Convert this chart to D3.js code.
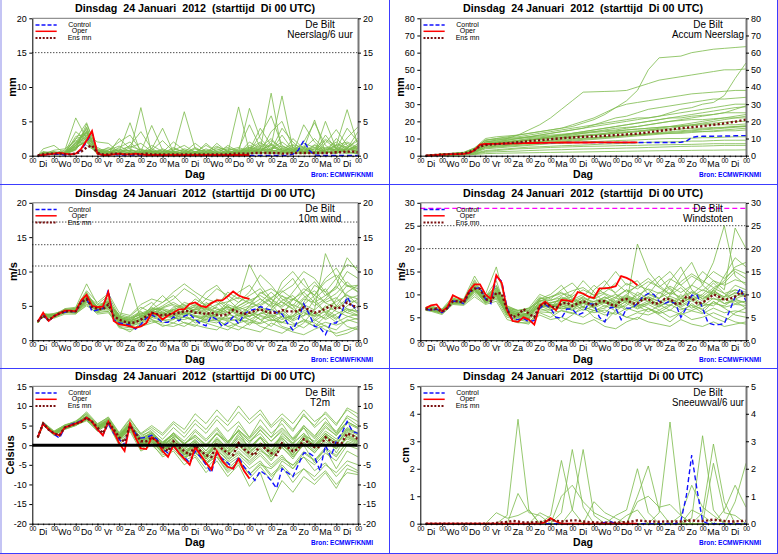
<!DOCTYPE html>
<html><head><meta charset="utf-8">
<script src="https://cdn.jsdelivr.net/npm/d3@7"></script>
<style>body{margin:0;background:#fff}svg{display:block}text{font-family:"Liberation Sans",Arial,Helvetica,sans-serif}</style>
</head><body><svg id="c" width="778" height="554"></svg>
<script>
// ---------- time axes ----------
const hours6 = d3.range(6, 361, 6);                 // control / ens-mean hours (60)
const operHours = hours6.slice(0, 40);              // oper runs to +240h
const memberHours = [6].concat(d3.range(12, 361, 12)); // ensemble member hours (31)
const dayLabels = ["Di","Wo","Do","Vr","Za","Zo","Ma","Di","Wo","Do","Vr","Za","Zo","Ma","Di"];
const titleText = "Dinsdag  24 Januari  2012  (starttijd  Di 00 UTC)";
const legendLabels = ["Control","Oper","Ens mn"];

// ---------- Neerslag / 6 uur ----------
const ctrlPrecip = [0,0.1,0.2,0.2,0.2,0.1, 0.2,0.3,0.8,2.0,3.4,0.3, 0.1,0.1,0.2,0.1,0.1,0.1, 0.1,0.1,0.1,0.1,0.1,0.05, 0.05,0.05,0.05,0.05,0.05,0.05, 0.05,0.05,0.05,0.05,0.05,0.05, 0.05,0.05,0.05,0.05,0.05,0.05, 0.05,0.05,0.05,0.05,0.05,0.2, 0.8,2.2,0.8,0.1,0.05,0.05, 0.05,0.05,0.05,0.05,0.05,0.05];
const operPrecip = [0,0.1,0.2,0.3,0.4,0.3, 0.2,0.3,1.0,2.2,3.6,0.3, 0.1,0.1,0.2,0.3,0.2,0.2, 0.3,0.2,0.1,0.1,0.1,0.1, 0.1,0.1,0.1,0.1,0.1,0.1, 0.1,0.1,0.1,0.1,0.1,0.1, 0.1,0.1,0.1,0.1];
const meanPrecip = [0.05,0.2,0.3,0.3,0.3,0.2, 0.2,0.3,0.6,1.2,1.5,0.4, 0.2,0.2,0.3,0.3,0.2,0.2, 0.2,0.2,0.3,0.2,0.2,0.2, 0.2,0.2,0.2,0.2,0.2,0.2, 0.2,0.2,0.2,0.2,0.2,0.2, 0.3,0.3,0.3,0.3,0.4,0.4, 0.4,0.4,0.4,0.3,0.3,0.4, 0.4,0.4,0.4,0.4,0.4,0.4, 0.4,0.5,0.5,0.6,0.6,0.5];
const membersPrecip = [
 [0,0.4,0.3,0.2,0.8,3.5,0.3,0.5,1.0,0.2,0.5,0.3,0.2,0.5,0.3,0.2,0.1,0.3,0.5,0.4,1.5,0.8,0.5,0.3,0.6,1.0,0.5,0.8,1.2,0.6,0.8],
 [0,0.6,0.4,0.8,5.5,2.5,0.4,1.2,0.6,4.8,0.3,0.5,0.2,0.1,0.2,0.5,1.5,0.6,0.3,0.2,0.4,1.2,2.5,0.8,0.4,1.0,5.2,0.5,1.5,2.0,1.2],
 [0,0.3,0.2,0.3,1.0,4.6,1.0,0.2,0.1,0.5,7.0,0.3,0.2,0.1,0.3,0.2,0.1,0.2,0.3,7.1,0.5,0.3,1.0,2.0,0.8,0.3,0.5,3.0,1.0,0.5,0.3],
 [0,1.0,1.5,0.3,1.5,4.0,0.5,0.3,0.5,0.8,0.6,4.4,0.8,0.3,0.2,0.5,0.2,0.1,0.3,0.5,6.9,2.5,0.8,0.4,0.5,1.0,2.5,0.8,1.5,6.7,1.5],
 [0,0.2,0.5,0.4,2.5,3.0,2.0,1.8,0.5,0.3,0.5,1.0,4.0,0.5,6.4,1.0,0.4,0.3,0.2,0.6,0.3,1.0,9.1,0.5,0.3,0.4,1.0,0.5,0.3,1.0,0.5],
 [0,0.3,0.4,0.2,1.8,2.8,0.8,1.0,0.3,0.2,0.3,0.6,0.5,2.0,0.8,0.3,0.2,0.2,1.5,0.6,0.5,0.8,1.5,8.7,1.0,0.5,0.3,0.4,2.5,1.0,3.5],
 [0,0.5,0.2,0.5,3.5,2.2,0.3,0.2,0.4,1.5,3.5,1.0,0.3,0.2,0.5,1.8,0.6,1.0,0.3,0.2,0.8,4.0,1.5,0.5,0.3,4.5,2.0,0.5,1.0,4.0,2.0],
 [0,0.2,0.8,1.0,2.2,1.5,0.5,0.3,2.5,1.0,0.3,0.2,0.1,0.3,0.2,0.1,0.3,1.8,0.5,0.3,1.0,0.5,3.5,5.0,1.2,0.4,0.3,5.0,1.0,0.5,0.4],
 [0,0.2,0.2,0.3,1.0,4.2,0.4,0.6,0.3,0.2,1.0,0.4,0.3,1.2,0.4,0.2,0.4,0.3,0.2,0.3,2.0,1.0,0.4,0.2,2.5,1.0,0.4,0.6,0.3,1.2,2.2],
 [0,0.5,0.4,0.3,2.8,3.2,0.6,0.3,0.2,0.4,0.3,1.5,0.6,0.3,0.2,0.3,1.0,0.4,0.6,0.2,0.3,0.5,1.8,0.6,0.5,2.0,4.8,1.5,0.5,0.3,0.6],
 [0,0.3,0.1,0.2,1.2,2.0,0.2,0.8,2.0,3.0,0.8,0.3,1.0,0.4,0.3,0.2,0.2,0.5,0.3,1.0,4.5,1.2,0.6,3.0,0.8,0.5,0.4,1.8,3.8,1.5,0.8],
 [0,0.2,0.3,0.4,2.0,3.8,0.3,0.2,0.3,0.5,0.2,0.3,0.4,0.3,0.6,0.4,0.3,0.2,0.4,0.3,0.6,3.0,5.8,1.5,0.6,0.3,1.5,0.6,0.4,2.6,4.2],
 [0,0.4,0.6,0.2,1.6,2.6,1.2,0.4,0.2,0.3,0.4,0.2,0.6,0.4,0.3,1.2,0.4,0.3,0.2,0.4,0.3,0.4,0.3,0.5,1.5,0.6,0.3,0.4,0.8,0.5,0.3],
 [0,0.2,0.4,0.6,2.4,4.8,0.6,0.5,0.8,0.6,0.3,0.2,0.3,0.2,0.4,0.6,0.3,1.2,0.8,0.4,0.6,1.5,0.8,4.0,2.0,0.6,0.5,1.0,2.0,0.8,1.5],
 [0,0.3,0.2,0.4,1.4,3.0,0.4,0.3,1.2,2.0,0.5,0.8,2.2,0.6,0.4,0.3,1.8,0.5,0.3,0.6,1.0,2.0,0.6,1.0,0.4,1.2,0.6,2.2,1.0,1.8,1.0],
 [0,0.4,0.5,0.3,2.0,3.4,0.8,0.6,0.3,1.2,1.8,0.6,0.3,0.8,1.5,0.5,0.3,0.8,1.2,0.4,0.8,0.6,2.2,1.2,0.6,0.8,1.2,0.4,0.6,1.0,2.6],
 [0,0.3,0.3,0.2,1.0,2.4,0.5,0.4,0.6,0.8,0.4,0.6,0.8,0.5,0.4,1.0,0.6,0.3,0.5,0.8,1.2,0.6,1.0,1.4,0.8,0.6,1.6,1.0,0.8,1.4,1.0],
 [0,0.2,0.2,0.3,1.2,2.2,0.4,0.3,0.2,0.4,0.6,0.3,0.2,0.6,0.8,0.4,0.2,0.4,0.6,0.3,0.4,1.0,0.8,0.6,1.2,0.8,0.5,0.8,1.6,1.2,0.6],
 [0,0.4,0.5,0.4,1.5,3.6,0.6,0.8,1.4,0.6,0.3,0.5,0.6,0.4,1.0,0.6,0.4,0.6,1.0,0.8,0.6,1.8,1.2,0.8,0.6,1.4,0.8,1.2,0.8,0.6,1.8],
 [0,0.3,0.2,0.2,0.9,2.7,0.3,0.2,0.4,0.3,0.2,0.4,0.3,0.2,0.3,0.6,0.8,0.4,0.3,0.6,0.8,0.4,0.6,1.0,1.6,1.2,0.6,0.4,1.0,0.8,1.2],
 [0,0.5,0.3,0.5,1.8,3.3,0.7,0.5,0.8,1.4,0.8,0.6,0.4,1.0,0.6,0.3,0.6,1.4,0.6,0.5,1.2,0.8,1.6,0.8,1.0,0.6,1.0,2.4,1.4,0.8,1.4],
 [0,0.2,0.4,0.3,1.3,2.0,0.4,0.6,0.3,0.2,0.4,0.8,0.4,0.6,0.2,0.4,0.5,0.3,0.8,1.2,0.6,0.5,0.4,0.6,0.8,1.8,1.2,0.6,0.5,1.0,0.8]
];

// ---------- Accum Neerslag ----------
const ctrlAccum = [0,0.2,0.4,0.6,0.8,0.9, 1.0,1.1,1.5,3.0,6.3,6.7, 6.8,6.9,7.0,7.1,7.2,7.2, 7.3,7.3,7.4,7.4,7.5,7.5, 7.6,7.6,7.7,7.7,7.7,7.7, 7.7,7.7,7.7,7.7,7.7,7.7, 7.7,7.7,7.7,7.7,7.7,7.7, 7.7,7.7,7.7,7.7,7.7,7.8, 8.4,10.6,11.2,11.3,11.3,11.3, 11.4,11.5,11.5,11.6,11.7,11.7];
const operAccum = [0,0.2,0.4,0.6,0.8,0.9, 1.0,1.1,1.6,3.2,6.5,6.8, 6.9,6.9,7.0,7.1,7.2,7.2, 7.3,7.4,7.4,7.5,7.5,7.6, 7.6,7.7,7.7,7.7,7.7,7.7, 7.7,7.8,7.8,7.8,7.8,7.8, 7.8,7.8,7.8,7.8];
const meanAccum = [0,0.3,0.5,0.7,0.9,1.0, 1.1,1.3,2.0,3.5,5.5,6.2, 6.5,6.8,7.0,7.3,7.5,7.8, 8.1,8.5,8.8,9.0,9.3,9.6, 9.9,10.2,10.4,10.6,10.8,11.0, 11.1,11.2,11.4,11.6,11.8,12.0, 12.2,12.4,12.6,12.8,13.2,13.6, 14.0,14.4,14.8,15.2,15.6,16.0, 16.3,16.6,16.9,17.2,17.6,18.0, 18.4,18.8,19.3,19.8,20.4,21.0];
const membersAccum = [
 [0,0.4,0.8,1.2,1.6,3.5,8,9,10,12,15,18,22,27,32,37,37.2,37.4,37.6,38,40,42,44,45,46,47,48,49,50,50,50.5],
 [0,0.5,1.0,1.5,2.0,4.5,9,10,11,12,13,14,15,16,17,19,21,24,28,32,38,50,57,57.5,58,60,61,62,62.5,63,63.5],
 [0,0.3,0.7,1.0,1.4,3.0,7,8,9,10,11,12,13,14,15,16,17,18,19,20,21,22,23,25,27,28,30,31,35,45,54],
 [0,0.5,0.9,1.3,1.8,4.5,10,11,11.5,12,13,14,15,16,18,20,22,25,28,30,31,32,33,34,35,36,36.5,37,37.5,38,38],
 [0,0.3,0.7,1.0,1.3,3.5,8,8.5,9,10,11,12,13,14,15,16,18,20,22,23,25,27,28,29,30,31,32,33,33,33.5,34],
 [0,0.4,0.8,1.2,1.6,4,9,10,10.5,11,12,13,14,15,16,17,18,19,20,21,22,22,23,24,25,26,27,28,29,30,30],
 [0,0.3,0.7,1.1,1.5,3,7,7.5,8,8.5,9,10,11,12,13,14,15,16,17,18,19,20,21,22,23,24,25,26,27,28,28.5],
 [0,0.4,0.8,1.2,1.6,3,6,7,8,9,10,10.5,11,12,13,14,15,16,17,18,19,20,21,22,22,23,23.5,24,25,25,25],
 [0,0.3,0.6,1.0,1.4,2.5,6,6.5,7,8,9,10,11,11.5,12,13,14,15,16,16.5,17,18,19,20,20.5,21,21,21.5,22,22,22],
 [0,0.2,0.5,0.8,1.1,2.2,5,5.5,6,7,7.5,8,9,10,11,11.5,12,13,14,15,15.5,16,16.5,17,17,17.5,18,18,18,18,18.5],
 [0,0.4,0.8,1.1,1.5,3.5,7,7.5,8,8.5,9,9.5,10,10.5,11,11.5,12,12.5,13,13.5,14,14.5,15,15,15.5,16,16,16.5,16.5,17,17],
 [0,0.3,0.6,0.9,1.2,2,5,5.5,6,6.5,7,7.5,8,8.5,9,9.5,10,10.5,11,11.5,12,12.5,13,13,13.5,14,14,14,14.5,14.5,15],
 [0,0.2,0.5,0.8,1.0,1.8,4,4.5,5,5.5,6,6.5,7,7.2,7.5,8,8.2,8.5,8.8,9,9.2,9.5,9.8,10,10,10.2,10.5,10.5,10.8,11,11],
 [0,0.2,0.4,0.6,0.8,1.5,3,3.5,4,4.5,5,5.2,5.5,5.8,6,6.2,6.5,6.8,7,7.2,7.5,7.8,8,8,8.2,8.5,8.5,8.8,9,9,9],
 [0,0.1,0.3,0.5,0.7,1.2,2.5,3,3.5,4,4.2,4.5,4.8,5,5.2,5.4,5.5,5.6,5.8,6,6,6.2,6.3,6.4,6.5,6.6,6.8,7,7,7,7],
 [0,0.1,0.2,0.4,0.6,1,2,2.3,2.5,2.7,3,3.2,3.4,3.5,3.7,3.9,4,4.2,4.3,4.5,4.6,4.8,5,5.2,5.4,5.5,5.6,5.8,6,6,6],
 [0,0.1,0.2,0.3,0.4,0.7,1.2,1.4,1.5,1.6,1.7,1.8,1.9,2,2.1,2.2,2.3,2.4,2.5,2.6,2.7,2.8,2.9,3,3,3.1,3.2,3.2,3.3,3.3,3.4],
 [0,0.4,0.7,1.0,1.5,3.2,8,9,9.5,10,10.5,11,11.5,12,12.5,13,13.5,14,14.5,15,15.5,16,16.5,17,17.5,18,18.5,19,19.5,20,20],
 [0,0.3,0.7,1.0,1.4,3.0,7,7.5,8,8.5,9,9.5,10,10.5,11,11.5,12,12.5,13,13.5,14,15,16,17,18,19,20,21,22,23,24],
 [0,0.3,0.6,0.9,1.3,2.6,6,6.5,7,7.5,8,8.5,9,9.5,10,10.2,10.5,11,11.5,12,12.2,12.5,13,13.5,14,14.5,15,15.5,16,16.5,17],
 [0,0.4,0.8,1.2,1.6,3.8,9,9.5,10,10.5,11,11.5,12,12.5,13,13.5,14,14.5,15,16,17,18,19,20,21,22,23,24,25,27,29],
 [0,0.2,0.5,0.8,1.2,2.4,5.5,6,6.5,7,7.5,8,8.5,9,9.5,10,10.5,11,11.5,12,12.5,13,13.5,14,14.5,15,15.5,16,16.5,17,17.5],
 [0,0.3,0.6,1.0,1.4,3.0,7.5,8,8.5,9,9.5,10,10.5,11,11.5,12,12.5,13,13.5,14,14.5,15,15.5,16,17,18,19,20,21,22,23],
 [0,0.2,0.4,0.7,1.0,2.0,4.5,5,5.5,6,6.5,7,7.5,8,8.5,9,9.5,10,10.5,11,11.5,12,12.5,13,13,13.5,14,14.5,15,15.5,16]
];

// ---------- 10m wind ----------
const ctrlWind = [2.7,3.6,2.8,3.5,3.9,4.1, 4.2,4.1,5.6,6.1,4.2,4.4, 4.6,7.3,3.0,2.5,2.4,2.2, 1.6,2.3,3.2,3.7,3.2,2.6, 2.6,3.4,2.8,3.5,3.8,3.0, 2.4,2.1,3.5,3.0,2.0,2.5, 3.4,2.4,3.8,4.3,4.5,4.9, 4.6,4.4,4.0,3.8,2.5,1.5, 3.0,5.3,3.8,2.0,1.8,0.8, 2.5,2.5,4.0,6.3,5.0,4.3];
const operWind = [2.7,4.0,2.8,3.5,3.9,4.3, 4.3,4.2,5.8,6.6,5.0,4.8, 4.9,7.0,2.8,2.3,2.2,2.0, 1.8,2.0,2.5,4.0,3.8,3.0, 3.6,4.0,4.5,4.5,5.3,5.5, 5.0,4.8,5.4,5.8,5.8,6.4, 7.1,6.5,6.2,6.0];
const meanWind = [2.7,3.6,2.9,3.5,3.9,4.2, 4.2,4.2,5.5,6.0,4.8,4.6, 4.5,5.2,3.5,3.0,2.7,2.5, 2.6,3.0,3.5,4.0,3.8,3.6, 3.8,3.8,4.0,4.2,4.3,4.0, 4.0,3.8,4.0,3.7,3.6,3.8, 4.4,4.1,3.8,4.0,4.3,4.5, 4.2,4.0,4.0,4.4,4.2,4.2, 4.2,4.8,4.4,4.0,4.2,4.6, 5.0,4.6,4.8,5.5,5.0,4.8];
const membersWind = [
 [2.6,3.7,3.6,4.4,4.5,6.5,5.2,5.5,2.5,2.0,3.0,5.0,6.5,5.0,3.5,4.5,6.0,5.5,4.0,3.0,5.0,7.0,6.0,4.5,3.0,5.5,8.0,7.0,5.0,4.0,3.5],
 [2.8,3.4,3.3,4.0,4.0,5.5,5.0,4.5,3.5,2.0,2.5,3.0,2.5,3.0,4.5,6.0,5.0,3.0,2.0,2.5,4.0,3.0,2.0,3.5,6.0,5.0,3.0,2.0,1.5,3.0,2.5],
 [2.5,3.8,3.8,4.5,4.6,7.0,4.5,6.0,3.0,8.3,3.0,4.5,5.5,6.5,5.0,4.0,3.5,5.0,7.0,6.0,11.0,8.0,6.0,5.0,7.0,9.0,6.0,4.0,5.0,7.0,8.0],
 [2.9,3.5,3.4,4.3,4.1,5.8,4.2,4.8,2.5,3.2,4.0,3.5,3.0,4.5,3.8,2.5,3.0,4.0,5.0,4.0,3.0,2.5,4.5,6.5,5.0,3.0,2.0,3.5,6.0,8.0,7.0],
 [2.7,3.6,3.7,4.0,4.3,6.2,4.4,5.0,2.0,1.2,2.5,4.0,4.5,3.5,2.5,2.0,3.5,3.0,2.0,1.5,2.5,4.0,3.5,2.0,1.5,2.5,4.5,12.6,9.0,6.0,4.0],
 [2.6,3.9,3.5,4.6,4.8,8.2,5.2,6.5,3.5,2.5,4.5,5.5,4.0,3.0,4.0,5.0,7.0,8.0,6.0,4.5,3.5,5.0,6.0,7.5,9.0,6.5,5.0,6.0,8.0,12.0,10.0],
 [2.8,3.3,3.2,3.8,3.8,5.2,3.8,4.0,2.0,1.8,2.0,2.5,3.0,2.5,2.0,3.0,2.5,2.0,1.5,2.5,3.0,2.0,1.5,1.0,2.0,3.0,2.5,1.5,1.0,1.5,2.0],
 [2.7,3.6,3.8,4.2,4.4,6.0,4.6,5.8,3.2,3.0,3.8,4.2,5.0,6.0,7.5,6.5,5.0,4.0,5.5,7.0,8.0,6.0,5.0,8.5,10.0,8.0,6.5,9.0,10.5,8.0,7.5],
 [2.5,3.5,3.6,4.1,4.0,5.6,4.0,5.3,3.8,3.3,4.2,3.0,2.0,2.5,3.5,4.5,4.0,3.0,3.5,5.0,6.0,4.5,3.0,2.5,4.0,6.0,5.5,4.0,3.0,5.0,6.0],
 [2.9,3.7,3.5,4.4,4.2,6.6,4.9,4.6,2.6,2.8,3.5,4.8,3.8,4.2,5.5,5.0,4.5,6.0,5.0,3.5,4.5,5.5,7.0,5.5,4.5,3.5,6.0,7.5,5.0,4.0,5.0],
 [2.6,3.5,3.4,4.3,4.0,5.3,4.3,4.2,2.4,2.2,3.2,3.6,4.2,3.2,3.0,3.5,2.8,2.5,3.8,3.2,2.2,3.5,2.8,3.5,2.5,1.8,3.0,4.5,3.5,2.0,1.5],
 [2.8,3.8,3.7,4.0,4.5,6.4,4.7,6.2,3.0,2.7,3.0,3.2,4.8,5.5,4.6,3.8,5.5,4.5,4.0,5.5,7.0,9.5,8.0,6.0,5.0,7.0,8.5,6.5,7.5,10.0,9.0],
 [2.7,3.4,3.5,4.2,4.1,5.9,4.1,5.0,2.8,3.5,4.8,4.0,3.5,3.8,4.2,3.5,3.2,3.8,4.5,3.5,4.0,3.0,3.5,4.0,3.0,4.0,3.5,5.0,4.2,3.5,3.0],
 [2.6,3.6,3.4,4.5,4.6,6.8,4.4,5.6,2.2,2.4,2.8,3.8,3.4,4.8,5.2,4.2,3.8,3.4,5.2,4.6,5.5,4.8,4.2,5.8,6.5,4.8,3.8,3.2,4.5,5.8,5.5],
 [2.8,3.7,3.6,4.1,4.3,6.1,4.5,4.4,3.4,2.9,3.3,4.4,4.6,4.2,3.8,4.6,4.2,4.8,3.2,2.8,3.6,3.8,5.4,3.2,3.5,5.2,6.5,5.5,6.2,4.5,4.2],
 [2.7,3.5,3.5,4.0,4.2,5.7,4.8,5.1,2.9,2.3,3.6,3.4,3.9,3.6,3.3,2.8,3.6,4.4,4.8,4.2,3.4,4.6,3.6,2.6,3.4,4.2,2.8,3.8,2.6,3.4,3.8],
 [2.7,3.6,3.9,4.3,4.7,7.2,5.5,6.8,4.0,3.6,5.2,6.0,5.5,7.0,8.2,7.0,6.0,7.5,6.5,5.5,6.5,7.5,5.5,7.0,8.0,10.0,9.0,7.0,9.0,11.0,10.5],
 [2.6,3.4,3.3,4.1,3.9,5.0,4.0,4.2,1.8,1.5,2.2,2.8,2.2,2.0,2.6,2.2,1.8,1.5,2.8,2.0,1.6,1.2,2.5,1.8,1.2,0.8,1.6,2.2,0.6,1.0,1.8],
 [2.7,3.5,3.6,4.2,4.3,6.3,4.6,5.4,3.2,2.8,3.4,4.3,4.0,4.5,5.0,5.5,4.2,3.6,4.2,5.0,5.8,6.5,5.5,4.8,6.0,7.0,5.5,6.5,7.8,6.5,6.0],
 [2.6,3.6,3.5,4.1,4.1,5.9,4.5,5.2,2.8,2.4,2.8,3.6,3.2,3.5,3.9,3.4,3.0,2.8,3.2,3.6,3.0,3.8,4.5,3.8,2.8,3.6,4.2,3.0,3.8,4.6,4.0],
 [2.8,3.7,3.6,4.3,4.4,6.2,4.8,5.6,3.6,3.0,3.9,4.6,4.4,4.0,4.8,4.4,5.2,5.8,4.6,3.8,4.8,5.2,6.2,7.2,6.0,5.2,4.4,5.8,6.8,8.5,7.0],
 [2.7,3.5,3.4,4.0,4.2,5.8,4.4,5.0,2.6,2.6,3.0,3.8,3.6,4.4,4.0,3.6,3.4,4.2,3.6,4.8,4.2,3.6,3.2,4.2,5.2,4.4,3.6,4.8,5.6,6.6,5.2],
 [2.6,3.6,3.7,4.4,4.3,6.0,4.7,5.3,3.3,2.7,3.5,4.2,3.8,3.4,4.4,5.2,4.6,4.0,4.8,4.4,5.0,6.0,4.8,5.6,4.6,6.2,7.2,5.4,4.8,6.0,6.5],
 [2.8,3.4,3.5,4.2,4.2,6.3,4.5,5.1,3.0,2.6,3.1,4.1,3.5,3.9,3.6,4.2,3.8,3.4,3.0,3.8,3.4,4.4,3.8,3.0,3.6,4.8,3.4,4.2,3.2,4.4,3.6],
 [2.7,3.7,3.6,4.1,4.4,6.5,4.9,5.7,3.5,3.2,3.7,4.5,4.7,5.2,4.5,4.8,4.4,5.2,5.6,6.2,5.4,6.8,7.5,6.4,5.8,7.5,6.6,8.5,9.5,7.8,8.0],
 [2.6,3.5,3.5,4.3,4.1,5.6,4.3,4.9,2.7,2.1,2.6,3.3,2.9,3.1,3.4,2.9,2.6,3.2,2.8,3.0,2.6,2.4,3.0,2.6,2.2,2.8,2.0,2.6,2.2,2.8,3.2]
];

// ---------- Windstoten ----------
const ctrlGust = [6.8,6.5,6.8,6.0,7.0,8.5, 8.5,8.0,10.5,11.2,11.5,9.0, 8.0,14.0,12.8,7.0,4.5,4.5, 4.8,4.0,4.3,7.0,7.8,7.0, 5.0,4.8,6.8,6.8,5.5,6.0, 8.0,7.8,5.0,4.0,7.2,7.0, 4.5,7.0,7.0,8.0,9.5,10.2, 10.0,8.5,8.0,8.5,8.0,5.0, 7.0,9.8,9.8,7.0,3.8,3.4, 3.4,3.6,6.5,9.5,11.3,8.5];
const operGust = [7.0,7.6,7.8,6.3,7.2,9.8, 9.2,8.5,10.8,12.2,12.2,10.0, 9.0,14.2,12.5,6.5,4.2,4.0, 5.0,4.5,3.4,7.5,8.4,7.5, 6.5,8.8,8.7,8.4,10.5,10.2, 9.5,9.2,11.3,11.3,11.5,11.8, 14.0,13.6,13.0,12.0];
const meanGust = [6.8,6.7,6.9,6.2,7.0,8.5, 8.5,8.2,10.5,11.3,11.2,9.0, 8.5,10.3,10.2,6.5,5.0,5.5, 6.8,5.8,5.0,7.5,8.0,7.5, 7.0,8.0,8.2,7.5,8.0,8.5, 8.0,7.5,8.5,8.5,7.8,7.5, 8.8,9.0,8.0,8.0,9.0,9.0, 8.0,8.0,9.0,9.0,8.0,8.0, 9.5,9.2,8.0,8.2,9.0,10.0, 9.5,8.8,9.0,9.5,10.5,9.5];
const membersGust = [
 [7.0,7.2,6.5,9.0,8.8,12.5,9.5,13.0,6.0,5.0,6.0,9.0,10.0,12.0,9.0,7.0,11.0,13.0,10.0,8.0,21.0,15.0,12.0,10.0,14.0,17.0,12.0,10.0,14.0,18.0,16.0],
 [6.6,6.4,5.8,8.0,7.8,10.0,8.0,9.0,5.0,4.5,4.0,6.0,5.0,6.5,6.0,5.0,6.5,5.5,6.0,5.0,6.0,5.5,6.5,5.0,6.0,4.5,5.0,6.0,5.0,4.0,3.5],
 [7.2,7.5,6.8,9.5,9.0,14.0,10.0,16.0,7.0,6.5,7.0,10.0,9.0,11.0,12.5,10.0,9.0,12.0,15.0,12.0,13.0,10.0,13.0,15.0,12.0,10.0,12.0,17.0,25.0,14.0,12.0],
 [6.8,6.5,6.0,8.3,8.0,11.0,8.2,9.8,5.5,4.0,3.5,7.0,6.0,4.0,5.5,7.5,5.0,4.0,6.5,5.0,4.5,7.0,5.5,4.0,6.0,8.0,6.5,5.0,4.0,6.0,7.0],
 [6.9,7.0,6.4,8.8,8.5,12.0,9.0,11.0,6.8,6.0,6.5,9.5,8.0,9.0,10.0,13.0,10.5,8.0,9.5,11.0,9.0,12.0,14.0,11.0,9.0,12.0,15.0,13.0,11.0,24.5,20.0],
 [6.7,6.6,6.1,8.2,8.1,11.2,8.4,10.0,6.2,5.0,5.5,7.5,6.5,7.5,6.5,9.0,7.0,6.0,8.0,6.5,8.0,7.0,6.0,7.5,10.0,7.5,6.0,8.5,7.0,5.5,5.0],
 [7.1,6.9,6.6,9.2,8.6,12.8,9.2,12.0,7.5,6.5,7.0,8.5,9.5,10.5,8.5,9.5,12.0,10.0,8.5,10.0,12.0,11.0,9.0,13.0,16.0,11.0,9.0,11.0,13.0,16.0,17.0],
 [6.5,6.3,5.6,7.8,7.6,9.5,7.8,8.5,4.5,3.8,3.8,5.5,4.5,5.0,4.0,3.5,4.5,3.0,2.5,4.0,5.0,4.0,3.5,3.0,4.5,3.5,3.0,4.0,3.0,3.5,4.0],
 [6.8,6.8,6.3,8.6,8.3,11.4,8.6,10.5,6.6,5.6,5.2,8.5,7.5,8.0,9.0,8.0,8.5,9.0,10.0,9.0,7.5,8.0,10.5,9.0,8.0,9.5,11.0,10.0,8.0,9.0,10.0],
 [6.9,6.7,6.2,8.4,8.2,11.8,8.8,11.5,6.4,5.2,4.8,7.8,7.2,9.5,8.2,6.5,7.5,8.5,7.0,7.5,10.5,9.0,7.8,6.5,8.5,7.0,8.0,7.5,9.5,12.0,11.0],
 [7.0,6.6,6.0,8.7,8.4,11.0,8.3,9.2,6.0,5.8,5.8,8.2,6.8,7.2,7.8,8.6,9.5,7.2,9.2,8.6,9.8,8.4,8.0,9.8,11.5,9.0,10.0,12.5,10.2,8.5,7.0],
 [6.7,7.1,6.5,8.5,8.0,10.6,8.9,10.8,6.5,5.4,5.0,7.2,8.2,8.8,9.5,7.2,6.5,7.0,8.5,6.8,7.5,6.2,7.5,8.5,7.0,6.5,7.5,8.0,7.5,9.0,8.0],
 [6.6,6.8,6.2,8.1,8.2,11.5,8.1,9.5,6.8,5.6,4.6,8.8,7.8,6.8,7.2,8.2,8.0,8.2,7.5,9.2,8.5,9.5,8.5,7.5,9.2,8.8,9.5,9.0,8.8,10.5,9.5],
 [7.1,7.3,6.7,8.9,8.7,13.2,9.4,11.8,7.2,6.2,5.6,9.2,8.6,9.8,10.8,11.5,9.8,10.5,12.5,10.5,11.8,13.5,11.5,10.0,12.8,14.5,13.0,11.5,12.5,15.0,13.5],
 [6.8,6.7,6.3,8.5,8.4,11.6,9.0,10.2,5.8,5.0,6.2,7.0,7.8,7.5,6.8,8.0,7.2,8.8,7.2,8.5,7.0,8.2,7.2,8.8,7.5,9.0,7.8,11.0,9.0,8.0,8.5],
 [6.9,6.8,6.4,8.6,8.3,10.8,8.7,10.5,6.2,4.8,5.4,7.8,7.0,8.5,7.5,9.5,8.0,9.5,8.0,9.5,8.8,10.0,9.0,11.5,8.5,10.5,9.0,10.5,9.5,11.0,10.0],
 [6.8,6.8,6.3,8.4,8.1,11.0,8.8,10.0,6.0,5.3,6.0,7.8,7.6,8.4,7.8,8.8,7.8,8.8,7.8,9.4,8.4,9.4,8.4,9.6,8.6,9.8,8.6,10.8,9.4,10.2,10.0],
 [6.7,6.6,6.1,8.3,8.0,10.9,8.6,9.9,5.6,4.6,5.0,6.6,6.6,7.0,6.6,7.4,6.4,7.6,6.4,8.0,6.8,7.8,6.6,7.8,6.6,7.6,6.8,8.4,7.2,7.8,7.6],
 [6.9,6.9,6.5,8.7,8.4,11.9,9.3,11.2,7.0,6.0,6.6,8.6,8.8,9.2,8.8,10.0,9.0,10.2,9.2,11.0,9.8,11.2,10.2,11.8,10.4,12.0,10.8,13.0,12.0,13.2,12.5],
 [6.7,6.7,6.2,8.2,8.1,11.1,8.9,10.4,6.4,5.5,5.6,7.4,7.2,7.8,7.2,8.2,7.0,8.2,7.0,8.6,7.4,8.6,7.4,8.4,7.2,8.6,7.4,9.2,8.0,8.6,8.4],
 [6.8,6.9,6.4,8.6,8.3,11.3,9.1,10.6,6.8,5.9,6.4,8.0,8.2,8.6,8.2,9.2,8.4,9.4,8.2,9.8,8.8,10.2,9.2,10.4,9.4,10.6,9.6,11.4,10.2,11.0,10.5],
 [6.6,6.6,6.0,8.0,7.9,10.4,8.4,9.6,5.4,4.4,4.6,6.2,6.0,6.4,5.8,6.8,6.0,6.6,5.6,7.0,6.2,6.8,5.8,6.6,5.6,6.4,5.8,7.0,6.0,6.4,6.0],
 [7.0,7.0,6.6,8.8,8.5,12.2,9.6,11.4,7.4,6.4,6.8,9.0,9.4,10.2,9.6,11.0,9.8,11.6,10.4,12.4,11.2,12.8,11.6,13.4,12.0,14.0,12.6,15.0,13.5,15.5,14.5],
 [6.8,6.8,6.3,8.5,8.2,11.2,8.9,10.2,6.6,5.4,5.6,7.6,7.2,8.0,7.4,8.6,7.4,8.6,7.6,9.0,8.0,9.2,7.8,9.2,8.0,9.4,8.0,10.4,8.8,9.8,9.6]
];

// ---------- T2m ----------
const ctrlT2m = [2.0,5.7,4.0,2.8,1.8,4.5, 5.2,5.8,6.2,7.0,6.0,4.0, 2.5,5.5,3.0,1.5,0.0,5.2, 3.0,1.8,2.0,2.5,1.5,-1.0, -2.0,0.0,-2.0,-3.0,-4.5,-1.5, -3.0,-5.0,-7.0,-2.0,-3.5,-4.5, -6.0,-3.0,-5.5,-7.0,-9.0,-6.5, -7.5,-9.0,-11.0,-6.0,-7.0,-8.0, -5.0,-2.0,-2.0,-3.0,-6.5,0.0, -3.0,1.0,3.0,6.0,3.5,3.0];
const operT2m = [2.0,5.5,4.0,3.0,2.5,4.5, 5.0,5.5,6.0,7.0,6.0,4.0, 2.5,6.0,3.5,0.5,-1.5,5.5, 2.0,-0.8,-1.0,2.0,1.0,-1.5, -3.0,0.0,-2.0,-3.5,-5.0,-0.5, -2.5,-4.5,-6.2,-1.5,-4.0,-5.5, -6.0,-3.5,-6.5,-8.5];
const meanT2m = [2.0,5.5,4.0,3.0,2.5,4.5, 5.0,5.5,6.0,7.0,6.0,4.5, 3.0,6.0,4.0,2.0,0.8,5.0, 3.0,1.0,1.0,2.0,1.0,-0.5, -1.5,1.0,-0.5,-1.5,-2.5,0.0, -1.5,-2.5,-3.0,0.5,-1.0,-2.0, -2.5,0.5,-1.0,-2.0,-2.5,0.5, -1.0,-2.0,-2.5,0.5,-0.5,-1.5, -1.0,1.5,0.5,-0.5,-0.5,2.0, 1.0,0.5,0.5,3.0,2.5,1.5];
const membersT2m = [
 [2.2,5.8,3.5,5.2,6.0,8.5,5.5,7.0,3.0,6.5,3.0,5.0,3.0,6.0,4.0,8.0,5.5,9.0,6.0,10.0,6.5,9.0,5.0,8.0,5.5,9.0,6.0,8.0,5.0,9.5,8.0],
 [1.8,5.2,2.5,4.0,5.0,6.5,3.5,5.5,0.5,4.0,-1.0,0.5,-3.0,-1.5,-5.0,-3.0,-7.0,-4.0,-8.0,-5.0,-10.5,-7.0,-14.5,-9.0,-12.0,-8.0,-10.0,-7.0,-11.0,-6.0,-7.0],
 [2.0,5.5,3.0,4.5,5.5,7.0,4.5,6.0,2.0,5.0,1.0,2.5,0.0,2.0,-1.0,1.5,-1.5,2.0,-1.0,3.0,0.5,4.0,1.0,3.5,0.5,3.0,-1.0,2.5,0.0,4.0,3.0],
 [2.1,5.6,3.2,4.8,5.8,7.5,4.8,6.5,1.5,5.5,0.0,1.0,-2.0,0.0,-3.0,-1.0,-4.5,-2.0,-5.0,-3.0,-6.0,-4.0,-7.5,-5.0,-8.0,-6.0,-9.0,-6.5,-10.0,-7.0,-7.5],
 [2.0,5.3,2.8,4.3,5.2,6.8,4.2,5.8,2.5,5.2,2.0,4.0,1.5,4.5,2.0,5.5,3.0,6.5,3.5,6.0,2.0,5.0,2.0,6.5,3.5,8.0,4.5,7.0,3.0,7.5,6.0],
 [1.9,5.4,3.1,4.6,5.6,7.2,4.4,6.2,1.0,4.5,-0.5,1.5,-1.5,1.0,-2.5,0.5,-3.5,-1.0,-4.0,-1.5,-4.5,-2.0,-5.0,-2.5,-6.0,-3.0,-5.0,-2.0,-4.0,0.0,-1.0],
 [2.2,5.7,3.4,4.9,5.9,8.0,5.0,6.6,2.8,6.0,2.5,3.5,0.5,3.0,0.0,3.5,1.0,4.0,0.5,5.0,2.0,6.5,3.0,5.5,1.5,4.5,0.0,3.0,-2.0,2.5,1.0],
 [1.8,5.1,2.6,4.2,5.1,6.2,3.8,5.2,0.0,3.5,-1.5,0.0,-2.5,-1.0,-4.0,-2.5,-6.0,-3.0,-7.0,-4.5,-8.5,-5.5,-9.0,-4.0,-6.0,-2.0,-4.0,-1.0,-3.0,1.0,0.0],
 [2.0,5.6,3.0,4.7,5.4,7.1,4.6,6.1,2.2,5.1,1.2,2.2,-0.5,1.2,-1.5,0.2,-2.5,0.5,-2.0,1.0,-1.5,0.5,-2.5,0.0,-2.0,1.5,-0.5,2.5,0.5,3.5,2.0],
 [2.1,5.4,2.9,4.4,5.7,7.3,4.3,6.3,1.8,4.8,0.5,1.8,-1.0,0.5,-2.0,-0.5,-3.0,0.0,-2.5,0.0,-3.0,-1.0,-4.0,-0.5,-3.5,0.5,-2.0,1.5,-1.0,2.0,0.5],
 [1.9,5.5,3.3,4.5,5.3,6.9,4.7,5.9,2.4,5.4,1.8,3.0,0.8,2.5,0.5,2.0,-0.5,3.0,0.0,4.0,1.0,3.0,-0.5,2.0,-1.0,2.5,1.0,4.5,2.5,6.0,4.5],
 [2.0,5.8,3.1,5.0,6.2,7.8,5.2,6.8,2.6,5.8,1.5,3.2,-0.5,2.2,-2.5,1.0,-3.5,1.5,-1.5,2.5,-0.5,2.0,-1.5,1.5,-3.0,0.0,-4.5,-1.0,-6.0,-1.5,-3.0],
 [2.0,5.2,2.7,4.1,5.0,6.6,4.0,5.6,1.2,4.2,-0.5,0.8,-2.0,0.5,-3.5,-1.5,-5.0,-2.5,-6.0,-3.5,-7.5,-4.5,-8.0,-5.5,-9.5,-6.0,-8.0,-5.0,-7.0,-4.0,-5.0],
 [2.1,5.9,3.6,5.1,5.9,8.2,5.3,7.2,3.2,6.8,2.8,4.5,2.5,5.5,3.0,6.5,4.0,7.5,5.0,8.5,5.5,8.0,4.5,7.0,4.0,7.5,5.0,8.5,5.5,9.0,7.0],
 [1.9,5.3,2.8,4.6,5.5,6.4,4.1,5.4,1.6,4.6,0.2,1.2,-1.8,-0.5,-3.0,-2.0,-4.0,-1.5,-3.5,-2.0,-4.0,-1.5,-3.0,0.0,-2.5,2.0,0.0,3.0,1.0,4.5,3.0],
 [2.0,5.5,3.0,4.4,5.6,7.4,4.9,6.4,2.0,5.3,0.8,2.6,0.2,3.2,1.0,4.0,1.5,4.5,1.0,3.5,-1.0,2.0,-2.0,3.0,0.5,5.0,2.0,6.0,3.5,7.0,5.0],
 [2.1,5.6,3.2,4.7,5.4,7.0,4.4,6.0,1.4,5.0,0.4,1.6,-1.2,0.0,-2.5,-1.8,-4.5,-3.0,-6.5,-4.0,-7.5,-5.0,-6.0,-3.5,-5.0,-3.0,-6.5,-4.5,-8.0,-5.0,-6.5],
 [2.0,5.4,3.0,4.5,5.5,7.1,4.5,6.0,2.1,5.0,1.1,2.0,-0.4,1.1,-1.4,0.1,-2.4,0.6,-1.8,0.8,-1.8,0.6,-1.8,0.8,-1.2,1.8,-0.2,2.2,0.6,3.2,1.8],
 [2.0,5.5,3.0,4.6,5.6,7.2,4.6,6.2,2.3,5.3,1.4,2.6,0.2,2.0,-0.6,1.2,-1.4,1.6,-0.8,2.0,-0.6,2.2,-0.4,2.4,0.2,3.0,0.6,3.6,1.6,4.2,3.2],
 [1.9,5.4,2.9,4.4,5.4,6.9,4.4,5.8,1.7,4.7,0.6,1.4,-1.2,0.2,-2.4,-1.0,-3.6,-0.6,-3.2,-0.8,-3.4,-0.6,-3.6,-0.6,-3.0,0.2,-1.8,0.8,-0.8,1.6,0.2],
 [2.1,5.7,3.2,4.8,5.7,7.4,4.8,6.4,2.5,5.6,1.8,3.2,0.8,3.0,0.4,2.6,-0.2,3.2,0.6,3.6,1.0,3.8,1.0,4.0,1.2,4.4,1.6,5.0,2.4,5.6,4.2],
 [2.0,5.4,2.9,4.3,5.3,6.8,4.3,5.7,1.5,4.4,0.0,0.8,-1.8,-0.6,-3.2,-1.8,-4.6,-2.0,-4.4,-2.4,-5.0,-2.6,-5.6,-3.0,-5.2,-1.6,-3.8,-0.6,-2.6,0.6,-0.4],
 [2.0,5.6,3.1,4.6,5.5,7.2,4.7,6.1,2.2,5.2,1.2,2.4,-0.2,1.6,-1.0,0.8,-2.0,1.0,-1.6,1.6,-1.2,1.8,-1.2,1.8,-0.8,2.4,0.0,3.0,1.0,3.8,2.6],
 [1.9,5.3,2.8,4.4,5.4,6.7,4.2,5.6,1.3,4.4,0.3,1.0,-1.4,0.4,-2.2,-0.4,-3.0,-0.2,-2.8,0.2,-2.6,0.0,-2.8,0.2,-2.4,0.8,-1.4,1.4,-0.6,2.2,0.8],
 [2.1,5.6,3.1,4.7,5.6,7.3,4.7,6.2,2.4,5.4,1.6,2.8,0.4,2.6,0.2,2.4,0.2,2.8,0.8,3.8,1.6,4.6,2.0,4.4,1.8,5.0,2.4,5.6,3.0,6.0,4.5],
 [2.0,5.5,3.0,4.5,5.4,7.0,4.5,6.0,1.9,4.9,0.8,1.8,-0.8,0.8,-1.8,-0.2,-2.8,0.2,-2.4,0.4,-2.2,0.6,-2.2,0.6,-1.6,1.4,-0.8,2.0,0.4,2.8,1.2]
];

// ---------- Sneeuwval / 6 uur ----------
const ctrlSnow = [0,0,0,0,0,0, 0,0,0,0,0,0, 0,0,0,0,0,0, 0,0,0,0,0,0, 0,0,0,0,0,0, 0,0,0,0.05,0.08,0, 0,0,0,0,0,0, 0,0,0,0,0,0.1, 1.0,2.5,1.2,0.1,0,0, 0,0,0,0,0,0];
const operSnow = [0,0,0,0,0,0, 0,0,0,0,0,0, 0,0,0,0,0,0, 0,0,0,0,0.05,0.2, 0.08,0,0,0,0,0, 0,0,0,0,0,0, 0,0,0,0];
const meanSnow = [0,0,0,0,0,0, 0,0,0,0,0,0, 0,0.03,0.05,0.06,0.1,0.08, 0.05,0.05,0.05,0.06,0.08,0.15, 0.1,0.08,0.1,0.12,0.12,0.08, 0.06,0.05,0.04,0.04,0.03,0.04, 0.05,0.06,0.08,0.12,0.1,0.08, 0.08,0.07,0.08,0.08,0.08,0.08, 0.1,0.12,0.1,0.1,0.12,0.15, 0.12,0.1,0.08,0.08,0.1,0.1];
const membersSnow = [
 [0,0,0,0,0, 0,0,0,0.3,3.8, 0.5,0,0,0,0, 0,0,0,0,0, 0,0,0,0,0, 0,0,0,0,0, 0],
 [0,0,0,0,0, 0,0,0,0,1.1, 0.4,0.3,0,0,0, 0,0,0,0,0, 0,0,0,0,0, 0,0,0,0,0, 0],
 [0,0,0,0,0, 0,0,0.4,0.2,0.3, 0.5,0,0,0,0, 0,0,0,0,0, 0,0,0,0,0, 0,0,0,0,0, 0],
 [0,0,0,0,0, 0,0,0,0,0, 0,0,0.3,2.3,0.5, 0,0,0,0,0, 0,0,0,0,0, 0,0,0,0,0, 0],
 [0,0,0,0,0, 0,0,0,0,0, 0,0,0,0.4,2.7, 0.6,0,0,0,0, 0,0,0,0,0, 0,0,0,0,0, 0],
 [0,0,0,0,0, 0,0,0,0,0, 0,0,0,0,0.5, 2.7,0.3,0,0,0, 0,0,0,0,0, 0,0,0,0,0, 0],
 [0,0,0,0,0, 0,0,0,0,0, 0,0,0,1.0,1.4, 0.8,0.4,0.2,0,0, 0,0,0,0,0, 0,0,0,0,0, 0],
 [0,0,0,0,0, 0,0,0,0,0, 0,0,0,0,0, 0,0,0,0.3,0.5, 2.0,0.4,0,0,0, 0,0,0,0,0, 0],
 [0,0,0,0,0, 0,0,0,0,0, 0,0,0,0,0, 0,0,0,0,0, 1.0,2.1,0.5,0,0, 0,0,0,0,0, 0],
 [0,0,0,0,0, 0,0,0,0,0, 0,0,0,0,0, 0,0,0,0,0, 0,0,0.4,3.7,0.3, 0,0,0,0,0, 0],
 [0,0,0,0,0, 0,0,0,0,0, 0,0,0,0,0, 0,0,0,0,0, 0,0,0,0,0.3, 1.4,0.6,0.3,0,0, 0],
 [0,0,0,0,0, 0,0,0,0,0, 0,0,0,0,0, 0,0,0,0,0, 0,0,0,0,0, 0.2,3.2,0.5,0,0, 0],
 [0,0,0,0,0, 0,0,0,0,0, 0,0,0,0,0, 0,0,0,0,0, 0,0,0,0,0, 0,0.4,2.9,0.8,0, 0],
 [0,0,0,0,0, 0,0,0,0,0, 0,0,0,0,0, 0,0,0,0,0, 0,0,0,0,0, 0,0,2.2,0.4,0.3, 0],
 [0,0,0,0,0, 0,0,0,0,0, 0,0,0,0,0, 0,0,0,0,0, 0,0,0,0,0, 0,0,0,0.5,1.4, 0.6],
 [0,0,0,0,0, 0,0,0,0,0, 0,0,0,0,0, 0,0,0,0,0, 0,0,0,0,0, 0,0,0,0,0.8, 2.2],
 [0,0,0,0,0, 0,0,0,0,0, 0,0,0,0,0, 0,0,0,0,0, 0.8,1.0,0.6,0.7,0.3, 0,0,0,0,0, 0],
 [0,0,0,0,0, 0,0,0,0,0, 0,0,0,0,0, 0,0,0,0,0.3, 0.5,0,0,0,0, 0.5,0.3,0,0,0, 0],
 [0,0,0,0,0, 0,0,0,0,0, 0,0.4,0.2,0,0, 0,0.8,0.4,0.2,0, 0,0,0,0,0, 0,0,0,0,0, 0]
];

// ---------- panel options (built from the arrays above) ----------
const panels = [
 {col:0,row:0,unit:"mm",name:"Neerslag/6 uur",domain:[0,20],ticks:[0,5,10,15,20],ctrl:ctrlPrecip,oper:operPrecip,mean:meanPrecip,members:membersPrecip,dotted:[15],magenta:[],zero:false,unitX:12},
 {col:1,row:0,unit:"mm",name:"Accum Neerslag",domain:[0,80],ticks:[0,10,20,30,40,50,60,70,80],ctrl:ctrlAccum,oper:operAccum,mean:meanAccum,members:membersAccum,dotted:[],magenta:[],zero:false,unitX:12},
 {col:0,row:1,unit:"m/s",name:"10m wind",domain:[0,20],ticks:[0,5,10,15,20],ctrl:ctrlWind,oper:operWind,mean:meanWind,members:membersWind,dotted:[10.8,13.9,17.2],magenta:[],zero:false,unitX:13},
 {col:1,row:1,unit:"m/s",name:"Windstoten",domain:[0,30],ticks:[0,5,10,15,20,25,30],ctrl:ctrlGust,oper:operGust,mean:meanGust,members:membersGust,dotted:[20,25],magenta:[28.8],zero:false,unitX:13},
 {col:0,row:2,unit:"Celsius",name:"T2m",domain:[-20,15],ticks:[-20,-15,-10,-5,0,5,10,15],ctrl:ctrlT2m,oper:operT2m,mean:meanT2m,members:membersT2m,dotted:[],magenta:[],zero:true,unitX:10},
 {col:1,row:2,unit:"cm",name:"Sneeuwval/6 uur",domain:[0,5],ticks:[0,1,2,3,4,5],ctrl:ctrlSnow,oper:operSnow,mean:meanSnow,members:membersSnow,dotted:[],magenta:[],zero:false,unitX:17}
];

// ---------- drawing ----------
const svg = d3.select("#c");
svg.append("rect").attr("width",778).attr("height",554).attr("fill","#fff");
const colX=[0,388], rowY=[0,184.5,368];
const PL=32.3, PR=358, PT=18.3, PB=155.7;
const x = d3.scaleLinear().domain([0,360]).range([PL,PR]);
const FONT='"Liberation Sans",Arial,Helvetica,sans-serif';
const GREEN="#7dba4c", CTRL="#1010ff", OPER="#ff0000", MEAN="#7a0f0f";

panels.forEach((p,pi)=>{
  const g = svg.append("g").attr("transform",`translate(${colX[p.col]},${rowY[p.row]})`);
  const y = d3.scaleLinear().domain(p.domain).range([PB,PT]);
  const cid="clip"+pi;
  g.append("clipPath").attr("id",cid).append("rect")
    .attr("x",PL).attr("y",PT-2).attr("width",PR-PL).attr("height",PB-PT+3);
  const plot = g.append("g").attr("clip-path",`url(#${cid})`);
  const lineM = d3.line().x((d,i)=>x(memberHours[i])).y(d=>y(d));
  const line6 = d3.line().x((d,i)=>x(hours6[i])).y(d=>y(d));
  const lineO = d3.line().x((d,i)=>x(operHours[i])).y(d=>y(d));

  plot.selectAll("path.m").data(p.members).join("path").attr("class","m")
    .attr("d",lineM).attr("fill","none").attr("stroke",GREEN)
    .attr("stroke-width",0.95).attr("stroke-opacity",0.85);

  // reference lines
  p.dotted.forEach(v=>g.append("line").attr("x1",PL).attr("x2",PR).attr("y1",y(v)).attr("y2",y(v))
    .attr("stroke","#000").attr("stroke-width",1).attr("stroke-dasharray","1,2"));
  p.magenta.forEach(v=>g.append("line").attr("x1",PL).attr("x2",PR).attr("y1",y(v)).attr("y2",y(v))
    .attr("stroke","#ff00ff").attr("stroke-width",1.2).attr("stroke-dasharray","5,3"));
  if(p.zero) g.append("line").attr("x1",PL).attr("x2",PR).attr("y1",y(0)).attr("y2",y(0))
    .attr("stroke","#000").attr("stroke-width",3);

  plot.append("path").datum(p.ctrl).attr("d",line6).attr("fill","none")
    .attr("stroke",CTRL).attr("stroke-width",1.4).attr("stroke-dasharray","5,3");
  plot.append("path").datum(p.oper).attr("d",lineO).attr("fill","none")
    .attr("stroke",OPER).attr("stroke-width",1.8);
  plot.append("path").datum(p.mean).attr("d",line6).attr("fill","none")
    .attr("stroke",MEAN).attr("stroke-width",2.4).attr("stroke-dasharray","2.2,2.2");

  // frame
  g.append("line").attr("x1",PL).attr("x2",PR).attr("y1",PT).attr("y2",PT).attr("stroke","#777").attr("stroke-width",1);
  const fmt = d=>String(d);
  const ax = g.append("g").attr("transform",`translate(${PL},0)`)
    .call(d3.axisLeft(y).tickValues(p.ticks).tickFormat(fmt).tickSize(3).tickSizeOuter(0).tickPadding(2.5));
  ax.select(".domain").attr("stroke","#000");
  const ar = g.append("g").attr("transform",`translate(${PR},0)`)
    .call(d3.axisRight(y).tickValues(p.ticks).tickFormat(fmt).tickSize(3).tickSizeOuter(0).tickPadding(2));
  ar.select(".domain").attr("stroke","#777").attr("stroke-width",2);
  [ax,ar].forEach(a=>a.attr("font-size",9).attr("font-family",FONT).selectAll("text").attr("fill","#000"));

  const bm = g.append("g").attr("transform",`translate(0,${PB})`)
    .call(d3.axisBottom(x).tickValues(d3.range(0,361,6)).tickFormat("").tickSize(1.5).tickSizeOuter(0));
  bm.select(".domain").remove();
  const bx = g.append("g").attr("transform",`translate(0,${PB})`)
    .call(d3.axisBottom(x).tickValues(d3.range(0,361,24)).tickFormat(()=>"00").tickSize(2).tickSizeOuter(0).tickPadding(0.5));
  bx.select(".domain").attr("stroke","#000");
  bx.attr("font-size",6.5).attr("font-family",FONT).selectAll("text").attr("fill","#000").attr("letter-spacing","-0.3");

  g.selectAll("text.day").data(dayLabels).join("text").attr("class","day")
    .attr("x",(d,i)=>x(24*i+12)).attr("y",PB+11).attr("text-anchor","middle")
    .attr("font-size",8.8).text(d=>d);

  // titles
  g.append("text").attr("x",195).attr("y",12).attr("text-anchor","middle")
    .attr("font-size",10.8).attr("font-weight","bold").style("white-space","pre")
    .attr("textLength",240).attr("lengthAdjust","spacingAndGlyphs").text(titleText);
  g.append("text").attr("x",195).attr("y",178).attr("text-anchor","middle")
    .attr("font-size",10.5).attr("font-weight","bold").text("Dag");
  g.append("text").attr("x",311).attr("y",177).attr("font-size",7).attr("font-weight","bold")
    .attr("fill","#0000ff").attr("textLength",62).attr("lengthAdjust","spacingAndGlyphs").text("Bron: ECMWF/KNMI");
  g.append("text").attr("transform",`translate(${p.unitX},${(PT+PB)/2}) rotate(-90)`)
    .attr("text-anchor","middle").attr("dominant-baseline","central")
    .attr("font-size",11).attr("font-weight","bold").text(p.unit);
  g.append("text").attr("x",320).attr("y",27.5).attr("text-anchor","middle").attr("font-size",10).text("De Bilt");
  const nm = g.append("text").attr("x",320).attr("y",37.8).attr("text-anchor","middle").attr("font-size",10).text(p.name);
  if (nm.node().getComputedTextLength() > 72) nm.attr("textLength",72).attr("lengthAdjust","spacingAndGlyphs");

  // legend
  const lg = g.append("g");
  const ly=[25,31.3,38];
  lg.append("line").attr("x1",35.5).attr("x2",56.7).attr("y1",ly[0]).attr("y2",ly[0]).attr("stroke",CTRL).attr("stroke-width",1.5).attr("stroke-dasharray","4,2");
  lg.append("line").attr("x1",35.5).attr("x2",56.7).attr("y1",ly[1]).attr("y2",ly[1]).attr("stroke",OPER).attr("stroke-width",1.5);
  lg.append("line").attr("x1",35.5).attr("x2",56.7).attr("y1",ly[2]).attr("y2",ly[2]).attr("stroke",MEAN).attr("stroke-width",2).attr("stroke-dasharray","2,1.6");
  lg.selectAll("text").data(legendLabels).join("text").attr("x",79.5).attr("y",(d,i)=>[27.3,33.4,40.2][i])
    .attr("text-anchor","middle").attr("font-size",7).text(d=>d);
});

// panel borders
svg.append("rect").attr("x",0).attr("y",0).attr("width",2).attr("height",554).attr("fill","#c4c4f4");
const B="#3c3cff";
[[0,184.5,778,184.5],[0,368.5,778,368.5],[389.5,0,389.5,554],[777.5,0,777.5,554],[0,553.5,778,553.5]]
 .forEach(l=>svg.append("line").attr("x1",l[0]).attr("y1",l[1]).attr("x2",l[2]).attr("y2",l[3]).attr("stroke",B).attr("stroke-width",1));
</script></body></html>
